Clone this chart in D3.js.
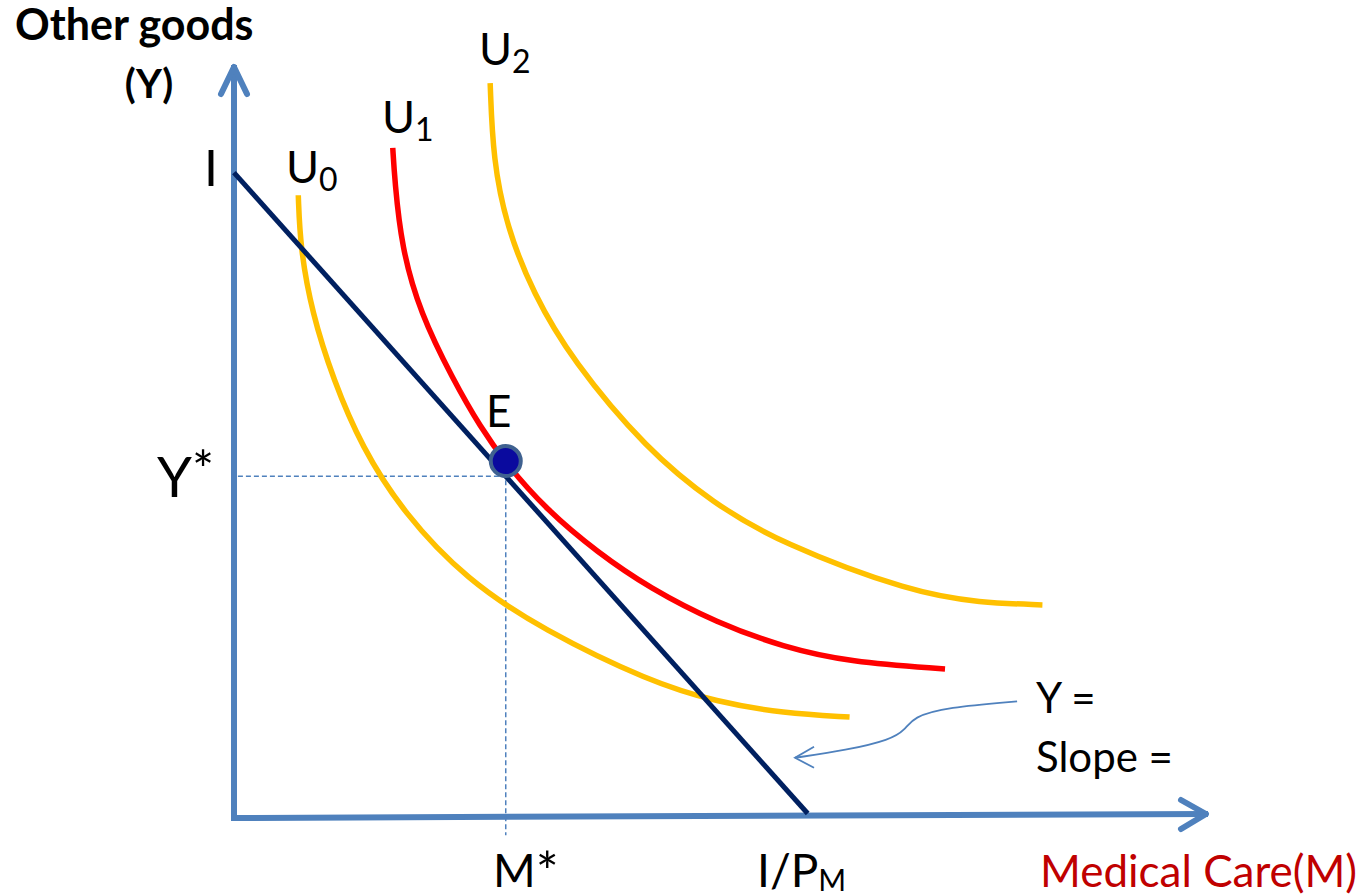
<!DOCTYPE html>
<html>
<head>
<meta charset="utf-8">
<script src="https://cdn.jsdelivr.net/npm/d3@7"></script>
<style>
  html, body { margin: 0; padding: 0; background: #fff; }
  svg { display: block; font-family: Lato, "Open Sans", sans-serif; }
</style>
</head>
<body>
<div id="chart"></div>
<script>
// values, in axis units (0-100 on both axes)
const u0 = [[6.6, 82.7], [6.8, 75.8], [8.0, 67.1], [10.2, 58.2], [13.1, 49.3],
  [17.4, 40.5], [23.9, 31.6], [31.7, 25.0], [42.7, 18.1], [49.6, 15.4], [56.4, 13.9],
  [63.2, 13.4]];
const u1 = [[16.3, 89.0], [16.5, 84.7], [17.2, 75.8], [19.1, 67.1], [22.5, 58.2], [25.3, 51.9],
  [27.9, 47.1], [32.1, 40.9], [37.3, 35.3], [42.7, 30.5], [49.6, 25.9], [56.4, 22.7],
  [63.2, 20.7], [73.0, 19.8]];
const u2 = [[26.3, 97.6], [26.6, 87.4], [28.0, 78.5], [30.7, 69.7], [34.7, 60.8],
  [42.4, 48.9], [49.2, 41.8], [56.1, 36.5], [69.7, 29.9], [76.6, 28.6], [83.0, 28.3]];
const budget = [[0, 85.7], [58.9, 0.6]];
const optimum = [27.9, 45.4];
const markerE = [27.9, 47.4];
const pointer = [[80.4, 15.5], [73.2, 14.7], [69.7, 13.4], [68.9, 11.7], [67.4, 10.4],
  [62.9, 9.0], [57.6, 8.0]];

const width = 1366, height = 894;
const x = d3.scaleLinear().domain([0, 100]).range([234, 1208]);
const y = d3.scaleLinear().domain([0, 100]).range([818, 65]);

const svg = d3.select("#chart").append("svg")
  .attr("width", width).attr("height", height);

const axisColor = "#4f81bd";
const line = d3.line().x(d => x(d[0])).y(d => y(d[1]));
const smooth = d3.line().x(d => x(d[0])).y(d => y(d[1])).curve(d3.curveBasis);

// axes
svg.append("line")
  .attr("x1", x(0)).attr("y1", y(0) + 3).attr("x2", x(0)).attr("y2", y(100))
  .attr("stroke", axisColor).attr("stroke-width", 6);
svg.append("path")
  .attr("d", `M${x(0) - 13},${y(100) + 29}L${x(0)},${y(100) + 2}L${x(0) + 13},${y(100) + 29}`)
  .attr("fill", "none").attr("stroke", axisColor).attr("stroke-width", 6)
  .attr("stroke-linecap", "round").attr("stroke-linejoin", "round");
svg.append("line")
  .attr("x1", x(0) - 3).attr("y1", y(0)).attr("x2", x(100)).attr("y2", y(0) - 4)
  .attr("stroke", axisColor).attr("stroke-width", 6);
svg.append("path")
  .attr("d", `M${x(100) - 27},${y(0) - 18}L${x(100) - 2},${y(0) - 4}L${x(100) - 27},${y(0) + 11}`)
  .attr("fill", "none").attr("stroke", axisColor).attr("stroke-width", 6)
  .attr("stroke-linecap", "round").attr("stroke-linejoin", "round");

// dashed guides
svg.append("path")
  .attr("d", line([[0.4, optimum[1]], optimum, [optimum[0], -2.3]]))
  .attr("fill", "none").attr("stroke", axisColor).attr("stroke-width", 1.5)
  .attr("stroke-dasharray", "5,3");

// indifference curves
[[u0, "#ffc000"], [u1, "#ff0000"], [u2, "#ffc000"]].forEach(([d, c]) => {
  svg.append("path").attr("d", smooth(d))
    .attr("fill", "none").attr("stroke", c).attr("stroke-width", 5.5);
});

// budget line
svg.append("path").attr("d", line(budget))
  .attr("fill", "none").attr("stroke", "#002060").attr("stroke-width", 5);

// point E
svg.append("circle")
  .attr("cx", x(markerE[0])).attr("cy", y(markerE[1])).attr("r", 15)
  .attr("fill", "#0a0a9e").attr("stroke", "#3f6190").attr("stroke-width", 4);

// pointer arrow
svg.append("path").attr("d", smooth(pointer))
  .attr("fill", "none").attr("stroke", axisColor).attr("stroke-width", 1.8);
const tip = pointer[pointer.length - 1];
svg.append("path")
  .attr("d", `M${x(tip[0]) + 19},${y(tip[1]) - 11}L${x(tip[0])},${y(tip[1])}L${x(tip[0]) + 19},${y(tip[1]) + 10}`)
  .attr("fill", "none").attr("stroke", axisColor).attr("stroke-width", 1.8);

// labels
function label(txt, px, py, size, opts = {}) {
  const t = svg.append("text").attr("x", px).attr("y", py)
    .style("font-size", size + "px")
    .attr("fill", opts.color || "#000")
    .attr("font-weight", opts.bold ? "bold" : "normal")
    .attr("text-anchor", opts.anchor || "start");
  t.append("tspan").text(txt);
  if (opts.sub) t.append("tspan").attr("dy", opts.subDy).style("font-size", opts.subSize + "px").text(opts.sub);
  return t;
}
label("Other goods", 15, 40, 43, { bold: true });
label("(Y)", 149, 98, 40, { bold: true, anchor: "middle" });
label("I", 204, 186, 50);
label("U", 286, 183, 45, { sub: "0", subDy: 8, subSize: 32 });
label("U", 382, 133, 45, { sub: "1", subDy: 8, subSize: 32 });
label("U", 479, 65, 45, { sub: "2", subDy: 8, subSize: 32 });
label("E", 486, 427, 44);
label("Y", 157, 497, 56, { sub: "*", subDy: -8, subSize: 52 });
label("M", 493, 887, 46, { sub: "*", subDy: 4, subSize: 54 });
label("I/P", 757, 887, 46, { sub: "M", subDy: 4, subSize: 30 });
label("Medical Care(M)", 1040, 887, 44, { color: "#c00000" });
label("Y =", 1036, 713, 42);
label("Slope =", 1036, 772, 42);
</script>
</body>
</html>
